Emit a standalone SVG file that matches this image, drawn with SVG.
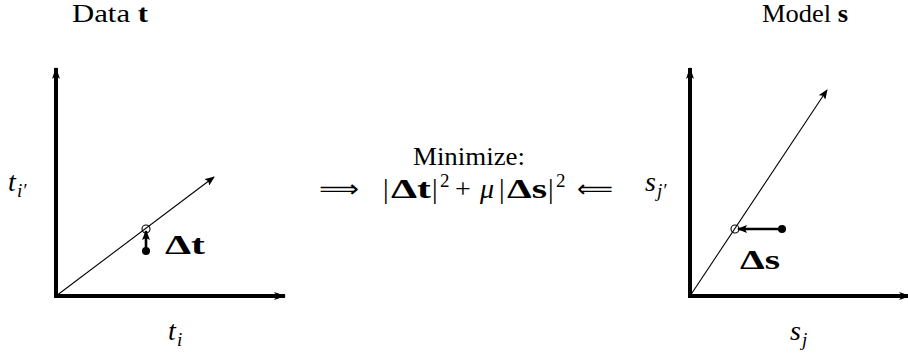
<svg xmlns="http://www.w3.org/2000/svg" width="908" height="356" viewBox="0 0 908 356">
<style>
.t{font-family:"Liberation Serif","DejaVu Serif",serif;fill:#000}
.it{font-style:italic}
.b{font-weight:bold}
.sym{font-family:"DejaVu Sans","Liberation Serif",sans-serif;fill:#000}
.ax{stroke:#000;stroke-width:4;fill:none}
.ln{stroke:#000;stroke-width:1.1;fill:none}
.dl{stroke:#000;stroke-width:2.6;fill:none}
</style>
<defs>
<marker id="ah" viewBox="0 0 12 8" refX="11" refY="4" markerWidth="12" markerHeight="8" markerUnits="userSpaceOnUse" orient="auto">
<path d="M0,0 L12,4 L0,8 L3,4 Z" fill="#000"/>
</marker>
<marker id="ahs" viewBox="0 0 10 8" refX="9" refY="4" markerWidth="10" markerHeight="8" markerUnits="userSpaceOnUse" orient="auto">
<path d="M0,0 L10,4 L0,8 L2,4 Z" fill="#000"/>
</marker>
</defs>
<rect width="908" height="356" fill="#fff"/>

<g id="title-data"><text class="t" x="72" y="22" font-size="26" textLength="76" lengthAdjust="spacingAndGlyphs">Data <tspan class="b">t</tspan></text></g>
<g id="title-model"><text class="t" x="762" y="22" font-size="26" textLength="86" lengthAdjust="spacingAndGlyphs">Model <tspan class="b">s</tspan></text></g>

<g id="plot-data">
<line class="ax" x1="56" y1="298" x2="56" y2="68" marker-end="url(#ah)"/>
<line class="ax" x1="54" y1="296" x2="285" y2="296" marker-end="url(#ah)"/>
<line class="ln" x1="56" y1="296" x2="214" y2="177" marker-end="url(#ahs)"/>
<line class="dl" x1="146" y1="251" x2="146" y2="231" marker-end="url(#ahs)"/>
<circle cx="146" cy="251" r="4" fill="#000"/>
<circle cx="146" cy="229" r="4" fill="none" stroke="#000" stroke-width="1.1"/>
<text class="t b" x="165" y="254" font-size="28" textLength="40" lengthAdjust="spacingAndGlyphs">Δt</text>
<text class="t it" x="8" y="191" font-size="28">t</text>
<text class="t it" x="17" y="197" font-size="19">i′</text>
<text class="t it" x="168" y="340" font-size="28">t</text>
<text class="t it" x="177" y="346" font-size="19">i</text>
</g>

<g id="plot-model">
<line class="ax" x1="690" y1="298" x2="690" y2="68" marker-end="url(#ah)"/>
<line class="ax" x1="688" y1="296" x2="910" y2="296" marker-end="url(#ah)"/>
<line class="ln" x1="690" y1="296" x2="827" y2="90" marker-end="url(#ahs)"/>
<line class="dl" x1="782" y1="229" x2="738" y2="229" marker-end="url(#ahs)"/>
<circle cx="782" cy="229" r="4" fill="#000"/>
<circle cx="735" cy="229" r="4" fill="none" stroke="#000" stroke-width="1.1"/>
<text class="t b" x="740" y="269" font-size="28" textLength="40" lengthAdjust="spacingAndGlyphs">Δs</text>
<text class="t it" x="645" y="191" font-size="28">s</text>
<text class="t it" x="657" y="197" font-size="19">j′</text>
<text class="t it" x="790" y="340" font-size="28">s</text>
<text class="t it" x="802" y="346" font-size="19">j</text>
</g>

<g id="objective">
<text class="t" x="413" y="165" font-size="26" textLength="112" lengthAdjust="spacingAndGlyphs">Minimize:</text>
<text class="t" x="383" y="198" font-size="28">|</text>
<text class="t b" x="391" y="198" font-size="28" textLength="40" lengthAdjust="spacingAndGlyphs">Δt</text>
<text class="t" x="432" y="198" font-size="28">|</text>
<text class="t" x="440" y="187" font-size="19">2</text>
<text class="t" x="455" y="198" font-size="28">+</text>
<text class="t it" x="480" y="198" font-size="28">μ</text>
<text class="t" x="499" y="198" font-size="28">|</text>
<text class="t b" x="507" y="198" font-size="28" textLength="40" lengthAdjust="spacingAndGlyphs">Δs</text>
<text class="t" x="548" y="198" font-size="28">|</text>
<text class="t" x="556" y="187" font-size="19">2</text>
</g>

<g id="connectors">
<text class="sym" x="319" y="197" font-size="24" textLength="40" lengthAdjust="spacingAndGlyphs">⟹</text>
<text class="sym" x="577" y="197" font-size="24" textLength="36" lengthAdjust="spacingAndGlyphs">⟸</text>
</g>
</svg>
